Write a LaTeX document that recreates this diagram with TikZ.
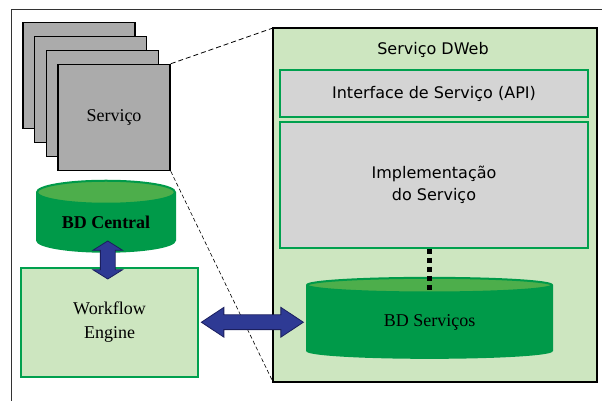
\documentclass[tikz,border=0pt]{standalone}
\usepackage{fontspec}
\setmainfont{Liberation Serif}
\newfontfamily\uisans{DejaVu Sans}
\usetikzlibrary{shapes.geometric, shapes.arrows, arrows.meta, positioning, calc}
\definecolor{DWebLight}{HTML}{CDE6C0}
\definecolor{DWebGreen}{HTML}{00A04E}
\definecolor{DWebDB}{HTML}{009A49}
\definecolor{DWebDBTop}{HTML}{4DAE4B}
\definecolor{DWebGray}{HTML}{ABABAB}
\definecolor{DWebSilver}{HTML}{D4D4D4}
\definecolor{DWebBlue}{HTML}{2E3A94}
\definecolor{DWebNavy}{HTML}{1B1F5E}
\tikzset{
    % Box styles
    service/.style={
        rectangle,
        draw=black,
        fill=DWebGray,
        line width=1.5pt,
        minimum width=112pt,
        minimum height=106pt,
        font=\fontsize{18}{21}\selectfont
    },
    container/.style={
        rectangle,
        draw=black,
        fill=DWebLight,
        line width=1.5pt,
        minimum width=324pt,
        minimum height=354pt
    },
    layer/.style={
        rectangle,
        draw=DWebGreen,
        fill=DWebSilver,
        line width=2pt,
        minimum width=308pt,
        align=center,
        font=\uisans\fontsize{16}{22}\selectfont
    },
    engine/.style={
        rectangle,
        draw=DWebGreen,
        fill=DWebLight,
        line width=1.5pt,
        minimum width=177pt,
        minimum height=109pt,
        align=center,
        font=\fontsize{18}{24}\selectfont
    },
    database/.style={
        cylinder,
        shape border rotate=90,
        draw=DWebDB,
        line width=2pt,
        cylinder uses custom fill,
        cylinder body fill=DWebDB,
        cylinder end fill=DWebDBTop,
        inner sep=0pt,
        font=\fontsize{18}{21}\selectfont
    },
    % Arrow styles
    biarrow/.style={
        double arrow,
        draw=DWebNavy,
        fill=DWebBlue,
        line width=0.8pt,
        inner xsep=0pt,
        inner ysep=7pt,
        double arrow head extend=7.5pt
    },
    dashedlink/.style={
        line width=0.8pt,
        draw=black,
        dash pattern=on 5pt off 3pt
    },
    dottedlink/.style={
        line width=5pt,
        draw=black,
        dash pattern=on 5pt off 4pt
    }
}
\begin{document}
\begin{tikzpicture}[x=1pt, y=1pt]
    \useasboundingbox (0,0) rectangle (602,401);
    \draw[line width=0.8pt, black!80] (11,0) |- (602,392);

    % stack of services
    \node[service] (s1) at (79,325.5) {};
    \node[service] (s2) at (90.7,311.5) {};
    \node[service] (s3) at (102.3,297.5) {};
    \node[service] (s4) at (114,283.5) {Serviço};

    \coordinate (dwnw) at (273,373);
    \coordinate (dwsw) at (273,19);
    \draw[dashedlink] (s4.north east) -- (dwnw);
    \draw[dashedlink, dash pattern=on 4pt off 2.5pt, line width=0.6pt] (s4.south east) -- (dwsw);

    % DWeb service
    \node[container] (dweb) at (435,196) {};
    \node[font=\uisans\fontsize{16}{20}\selectfont] (title) at (433,351) {Serviço DWeb};
    \node[layer, minimum height=47pt] (api) at (434,307.5) {Interface de Serviço (API)};
    \node[layer, minimum height=126pt] (impl) at (434,216) {Implementação\\do Serviço};
    \node[database, minimum width=245pt, minimum height=80pt, aspect=0.16] (bds) at (429.5,79) {BD Serviços};

    \coordinate (bdtop) at ($(bds.north)+(0,-15pt)$);
    \draw[dottedlink] (impl.south -| bdtop) -- (bdtop);

    % central side
    \node[engine] (wf) at (109.5,78.5) {Workflow\\Engine};
    \node[database, minimum width=138pt, minimum height=71pt, aspect=0.26, font=\bfseries\fontsize{18}{21}\selectfont] (bdc) at (106,178.5) {BD Central};

    \path (bdc.south) -- (wf.north) node[midway, biarrow, rotate=90, minimum height=38pt, double arrow tip angle=116] (a1) {};
    \path (wf.east) -- (bds.west) node[midway, biarrow, minimum height=102pt, double arrow tip angle=67] (a2) {};
\end{tikzpicture}
\end{document}
